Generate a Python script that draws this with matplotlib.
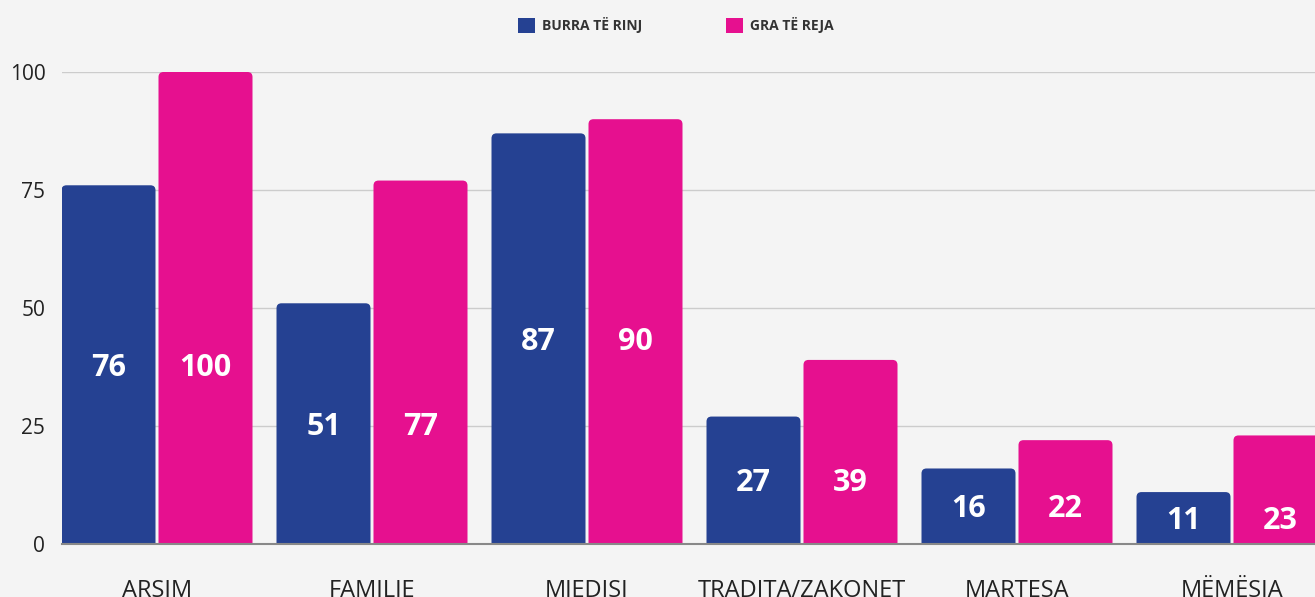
import matplotlib
matplotlib.use("Agg")
import matplotlib.pyplot as plt
from matplotlib.patches import FancyBboxPatch, Patch
from matplotlib.transforms import offset_copy
import numpy as np

categories = ["ARSIM", "FAMILJE", "MJEDISI", "TRADITA/ZAKONET", "MARTESA", "MËMËSIA"]
burra = [76, 51, 87, 27, 16, 11]
gra = [100, 77, 90, 39, 22, 23]
series_names = ["BURRA TË RINJ", "GRA TË REJA"]
yticks = [0, 25, 50, 75, 100]

BLUE = "#254192"
PINK = "#E6108F"

plt.rcParams['font.family'] = ['Open Sans', 'DejaVu Sans']

W, H = 1315, 597
fig = plt.figure(figsize=(W / 100, H / 100), dpi=100)
fig.patch.set_facecolor("#f4f4f4")

ax_left, ax_bottom_px, ax_top_px = 62, 544, 72
ax = fig.add_axes([ax_left / W, (H - ax_bottom_px) / H, (W - ax_left) / W, (ax_bottom_px - ax_top_px) / H])
ax.set_facecolor("none")

x = np.arange(len(categories))
bw = 94 / 215
off = 97 / 215 / 2
ax.set_xlim(-95 / 215, (W - 157) / 215)
ax.set_ylim(0, 100)

# rounding parameters
x_per_px = 1 / 215
y_per_px = 100 / 472
r = 5 * x_per_px
aspect = y_per_px / x_per_px

for vals, color, dx in [(burra, BLUE, -off), (gra, PINK, off)]:
    bars = ax.bar(x + dx, vals, width=bw, color=color, alpha=0)
    for b in bars:
        p = FancyBboxPatch((b.get_x(), -5), b.get_width(), b.get_height() + 5,
                           boxstyle=f"round,pad=0,rounding_size={r}",
                           mutation_aspect=aspect, facecolor=color, edgecolor="none",
                           zorder=2)
        ax.add_patch(p)

# value labels (slightly shifted down to match)
tr = offset_copy(ax.transData, fig=fig, x=0, y=-3, units="dots")
for i in range(len(categories)):
    ly = burra[i] / 2
    ax.text(x[i] - off, ly, str(burra[i]), color="white", fontsize=22, fontweight="bold",
            ha="center", va="center", zorder=3, transform=tr)
    ax.text(x[i] + off, ly, str(gra[i]), color="white", fontsize=22, fontweight="bold",
            ha="center", va="center", zorder=3, transform=tr)

ax.set_yticks(yticks)
ax.set_yticklabels([str(t) for t in yticks], fontsize=15, color="#222222")
ax.tick_params(axis="y", length=0, pad=12)
ax.set_xticks(x)
ax.set_xticklabels(categories, fontsize=17, color="#222222")
ax.tick_params(axis="x", length=0, pad=25)

ax.grid(axis="y", color="#cccccc", linewidth=1, zorder=0)
ax.set_axisbelow(True)
for s in ["top", "right", "left"]:
    ax.spines[s].set_visible(False)
ax.spines["bottom"].set_color("#888888")
ax.spines["bottom"].set_linewidth(1.5)
ax.spines["bottom"].set_zorder(4)

handles = [Patch(facecolor=BLUE), Patch(facecolor=PINK)]
leg = fig.legend(handles, series_names, loc="center", bbox_to_anchor=(676 / W, 1 - 25 / H),
                 ncol=2, frameon=False, handlelength=1.22, handleheight=1.22,
                 handletextpad=0.5, columnspacing=6,
                 prop={"family": "Open Sans", "weight": "bold", "size": 10})
for t in leg.get_texts():
    t.set_color("#333333")

fig.savefig("out.png", dpi=100, facecolor=fig.get_facecolor())
